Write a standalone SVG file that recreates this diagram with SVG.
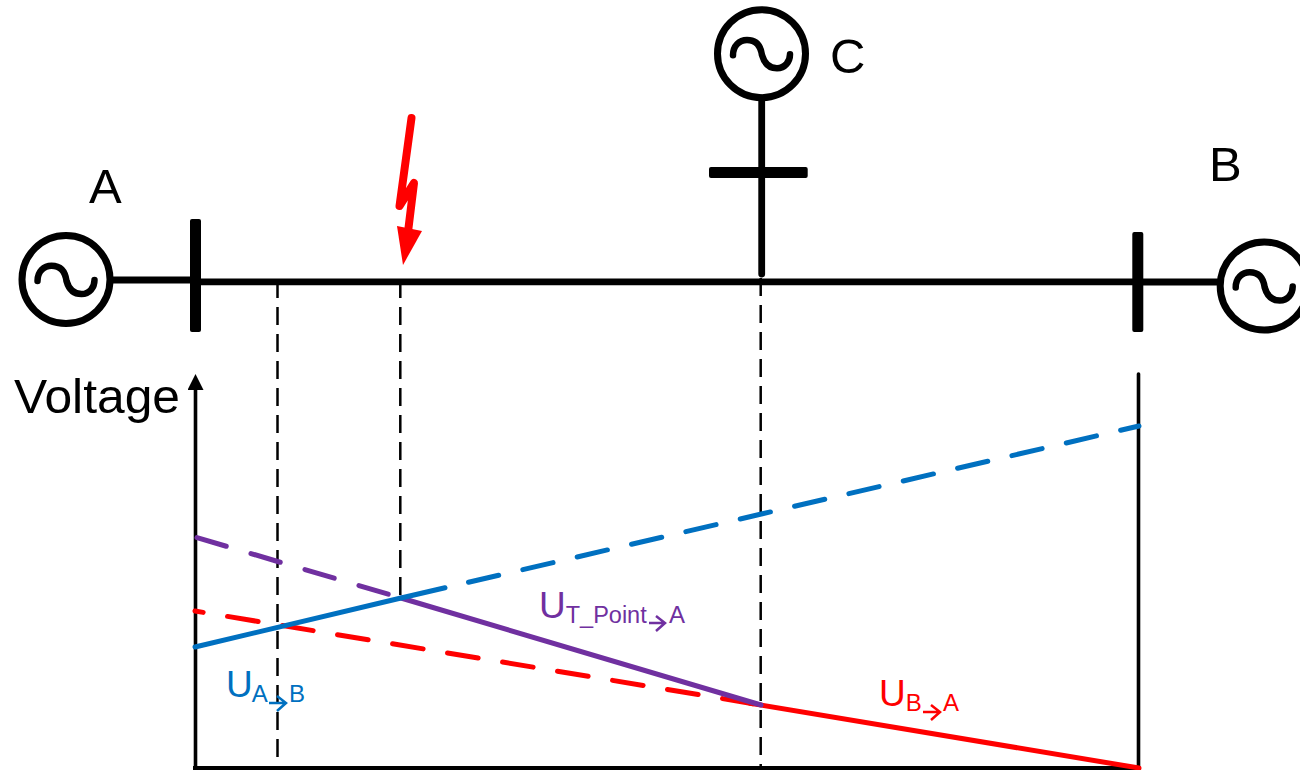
<svg xmlns="http://www.w3.org/2000/svg" width="1300" height="770" viewBox="0 0 1300 770">
<style>
.ln{fill:none;stroke:#000;stroke-linecap:butt;stroke-width:6.8}
.bar{fill:#000}
.gen{fill:none;stroke:#000;stroke-width:7}
.sine{fill:none;stroke:#000;stroke-width:6.5;stroke-linecap:round}
.dash{fill:none;stroke:#000;stroke-width:2.5;stroke-dasharray:18 9}
.axis{fill:none;stroke:#000;stroke-width:3.6}
.t{font-family:"Liberation Sans",Arial,sans-serif;fill:#000}
.lab{font-size:49px}
.u{font-family:"Liberation Sans",Arial,sans-serif;font-size:37px}
.s{font-size:24px}
.blue{fill:#0070c0}.red{fill:#f00}.pur{fill:#7030a0}
.c{fill:none;stroke-width:5;stroke-linecap:round}
.d{fill:none;stroke-width:5;stroke-linecap:round}
.ar{fill:none;stroke-width:2.5}
</style>
<defs>
<marker id="ah" markerUnits="userSpaceOnUse" markerWidth="16" markerHeight="16" refX="10" refY="8" orient="auto"><path d="M0 0L16 8L0 16Z" fill="#000"/></marker>
<path id="wave" class="sine" d="M-28.500 1.500C-28.500 -8 -22 -13.800 -14.500 -13.800C-4 -13.800 -0.500 -6 0.500 1.500C2.500 8.500 6.500 14.500 15.500 14.500C23.500 14.500 28.500 8 28.500 0.500"/>
</defs>
<g id="connectors">
<path class="ln" d="M112 280H194"/>
<path class="ln" d="M194 281.800H1138"/>
<path class="ln" d="M1138 282H1220"/>
<path class="ln" d="M761.700 98V274" style="stroke-linecap:round"/>
<path class="dash" d="M277.500 280V768"/>
<path class="dash" d="M400.300 280V598"/>
<path class="dash" d="M760.700 278V768"/>
<path class="axis" d="M195.500 768V380" marker-end="url(#ah)"/>
<path class="axis" d="M193 768H1140" style="stroke-width:4"/>
<path class="axis" d="M1138.500 374V768" stroke-linecap="round"/>
<path class="d" stroke="#f00" d="M195 611L761 705" stroke-dasharray="31 24.750" stroke-dashoffset="22.750"/>
<path class="c" stroke="#f00" d="M750 703.200L1139 768"/>
<path class="d" stroke="#7030a0" d="M197 537.600L401 598" stroke-dasharray="30.500 25.800"/>
<path class="c" stroke="#7030a0" d="M401 598L761 705"/>
<path class="c" stroke="#0070c0" d="M195 647L401 598L445 587.800"/>
<path class="d" stroke="#0070c0" d="M468.500 582.300L1139 426" stroke-dasharray="31 24.800"/>
</g>
<g id="gen-a">
<circle class="gen" cx="66" cy="279.500" r="44"/>
<use href="#wave" x="66" y="279.500"/>
<text class="t lab" x="89" y="203">A</text>
</g>
<g id="bus-a"><rect class="bar" x="190" y="219" width="11" height="113" rx="2"/></g>
<g id="gen-b">
<circle class="gen" cx="1264.200" cy="286" r="44"/>
<use href="#wave" x="1264.200" y="286"/>
<text class="t lab" x="1209" y="181">B</text>
</g>
<g id="bus-b"><rect class="bar" x="1132.300" y="232" width="11" height="100" rx="2"/></g>
<g id="gen-c">
<circle class="gen" cx="761.500" cy="53.700" r="44"/>
<use href="#wave" x="761.500" y="53.700"/>
<text class="t lab" x="830" y="72.500">C</text>
</g>
<g id="bus-c"><rect class="bar" x="709" y="167" width="98.700" height="11" rx="2"/></g>
<g id="fault">
<path d="M411.500 118L399.500 206L414 183L408 232" fill="none" stroke="#f00" stroke-width="8" stroke-linecap="round" stroke-linejoin="round"/>
<path d="M397 226L422 231L403 265Z" fill="#f00"/>
</g>
<g id="label-voltage"><text class="t" x="14" y="413" font-size="48" textLength="166" lengthAdjust="spacingAndGlyphs">Voltage</text></g>
<g id="label-uab">
<text class="u blue" x="226" y="697">U<tspan class="s" dy="5" dx="-1">A</tspan></text>
<text class="u blue" x="289" y="702" style="font-size:24px">B</text>
<path class="ar" stroke="#0070c0" d="M269 703H286M277 696L286 703L277 711"/>
</g>
<g id="label-utp">
<text class="u pur" x="539" y="618">U<tspan style="font-size:23.500px" dy="5">T_Point</tspan></text>
<text class="u pur" x="669" y="623" style="font-size:24px">A</text>
<path class="ar" stroke="#7030a0" d="M649 623H665M656 616L665 623L656 631"/>
</g>
<g id="label-uba">
<text class="u red" x="879" y="706">U<tspan class="s" dy="5">B</tspan></text>
<text class="u red" x="943" y="711" style="font-size:24px">A</text>
<path class="ar" stroke="#f00" d="M923 712H940M931 705L940 712L931 720"/>
</g>
</svg>
